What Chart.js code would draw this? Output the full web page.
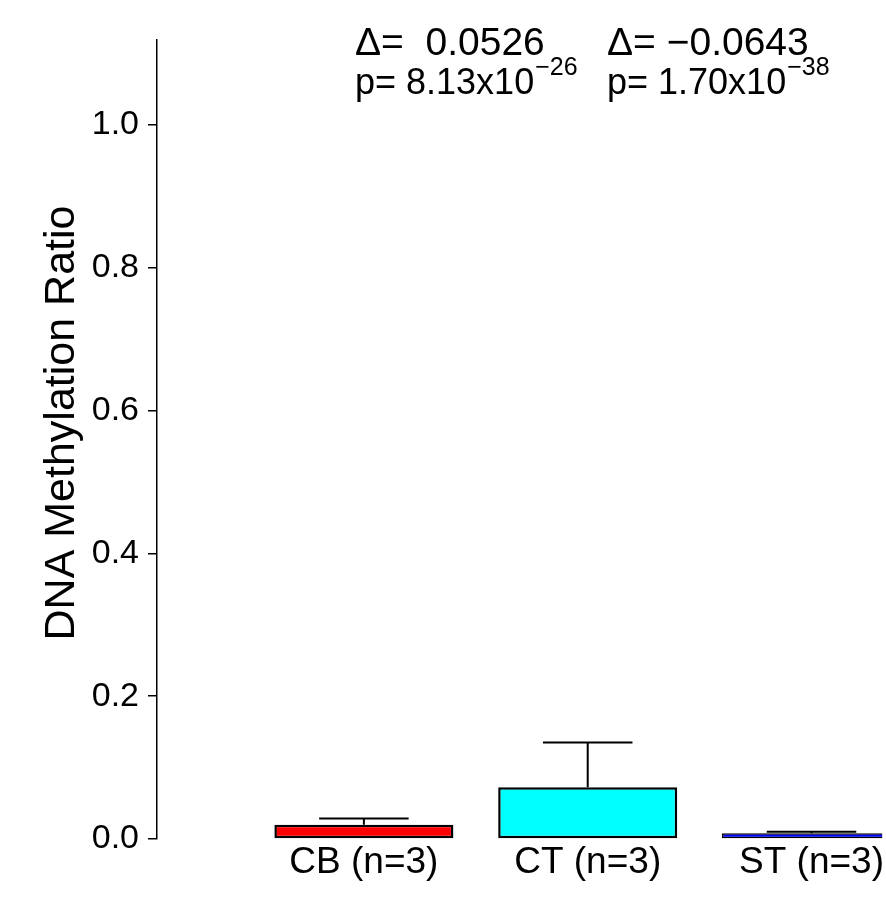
<!DOCTYPE html>
<html>
<head>
<meta charset="utf-8">
<script src="https://cdn.jsdelivr.net/npm/chart.js@4/dist/chart.umd.min.js"></script>
<style>
  html, body { margin: 0; padding: 0; background: #ffffff; overflow: hidden; }
  #wrap { width: 886px; height: 910px; position: relative; }
</style>
</head>
<body>
<div id="wrap"><canvas id="c" width="886" height="910"></canvas></div>
<script>
// ---- data ----
const categories = ['CB (n=3)', 'CT (n=3)', 'ST (n=3)'];
const meanValues = [0.0198, 0.0724, 0.0081];
const errorValues = [0.0088, 0.0626, 0.0019];
const barColors = ['#FF0000', '#00FFFF', '#0000FF'];
const yTickValues = [0.0, 0.2, 0.4, 0.6, 0.8, 1.0];
const yTitle = 'DNA Methylation Ratio';
const deltaLabels = ['0.0526', '\u22120.0643'];
const pMantissas = ['8.13', '1.70'];
const pExponents = ['\u221226', '\u221238'];

const FONT = "'Liberation Sans', Arial, Helvetica, sans-serif";

const errorBarPlugin = {
  id: 'errorBars',
  afterDatasetsDraw(chart) {
    const ctx = chart.ctx;
    const meta = chart.getDatasetMeta(0);
    const ys = chart.scales.y;
    ctx.save();
    ctx.strokeStyle = '#000000';
    ctx.lineWidth = 2;
    meta.data.forEach((bar, i) => {
      const top = ys.getPixelForValue(meanValues[i]);
      const tip = ys.getPixelForValue(meanValues[i] + errorValues[i]);
      const half = bar.width / 4;
      ctx.beginPath();
      ctx.moveTo(bar.x, top);
      ctx.lineTo(bar.x, tip);
      ctx.moveTo(bar.x - half, tip);
      ctx.lineTo(bar.x + half, tip);
      ctx.stroke();
    });
    ctx.restore();
  }
};

const textPlugin = {
  id: 'statText',
  afterDraw(chart) {
    const ctx = chart.ctx;
    const starts = [355, 607];
    ctx.save();
    ctx.fillStyle = '#000000';
    ctx.textBaseline = 'alphabetic';
    ctx.textAlign = 'left';
    starts.forEach((x, i) => {
      ctx.font = `39px ${FONT}`;
      const gap = deltaLabels[i][0] === '\u2212' ? ' ' : '  ';
      ctx.fillText('\u0394=' + gap + deltaLabels[i], x, 55);
      ctx.font = `36px ${FONT}`;
      const base = 'p= ' + pMantissas[i] + 'x10';
      ctx.fillText(base, x, 94);
      const w = ctx.measureText(base).width;
      ctx.font = `25px ${FONT}`;
      ctx.fillText(pExponents[i], x + w + 1, 75);
    });
    // y axis title
    ctx.font = `43px ${FONT}`;
    ctx.translate(74, 423);
    ctx.rotate(-Math.PI / 2);
    ctx.textAlign = 'center';
    ctx.fillText(yTitle, 0, 0);
    ctx.restore();
  }
};

new Chart(document.getElementById('c'), {
  type: 'bar',
  data: {
    datasets: [{
      data: meanValues.map((v, i) => ({ x: i, y: v })),
      backgroundColor: barColors,
      borderColor: '#000000',
      borderWidth: [2.5, 2.5, 1.5],
      borderSkipped: false,
      barPercentage: 1.0,
      categoryPercentage: 0.8
    }]
  },
  options: {
    responsive: false,
    animation: false,
    devicePixelRatio: 1,
    layout: { padding: { top: 40, right: 0, left: 0, bottom: 0 } },
    plugins: { legend: { display: false }, tooltip: { enabled: false }, title: { display: false } },
    scales: {
      x: {
        type: 'linear',
        offset: false,
        min: -0.9244,
        max: 2.3156,
        grid: { display: false, drawTicks: false },
        border: { display: false },
        afterFit(scale) { scale.height = 71; },
        afterBuildTicks(scale) { scale.ticks = categories.map((c, i) => ({ value: i })); },
        ticks: {
          autoSkip: false,
          maxRotation: 0,
          padding: 2,
          color: '#000000',
          font: { family: FONT, size: 37 },
          callback: (v) => categories[v] !== undefined ? categories[v] : ''
        }
      },
      y: {
        min: 0,
        max: 1.119,
        afterFit(scale) { scale.width = 157; },
        afterBuildTicks(scale) { scale.ticks = yTickValues.map(v => ({ value: v })); },
        grid: { drawOnChartArea: false, drawTicks: true, tickLength: 9, color: '#000000', lineWidth: 1.5 },
        border: { display: true, color: '#000000', width: 1.5 },
        ticks: {
          padding: 9,
          color: '#000000',
          font: { family: FONT, size: 34 },
          callback: (v) => Number(v).toFixed(1)
        }
      }
    }
  },
  plugins: [errorBarPlugin, textPlugin]
});
</script>
</body>
</html>
